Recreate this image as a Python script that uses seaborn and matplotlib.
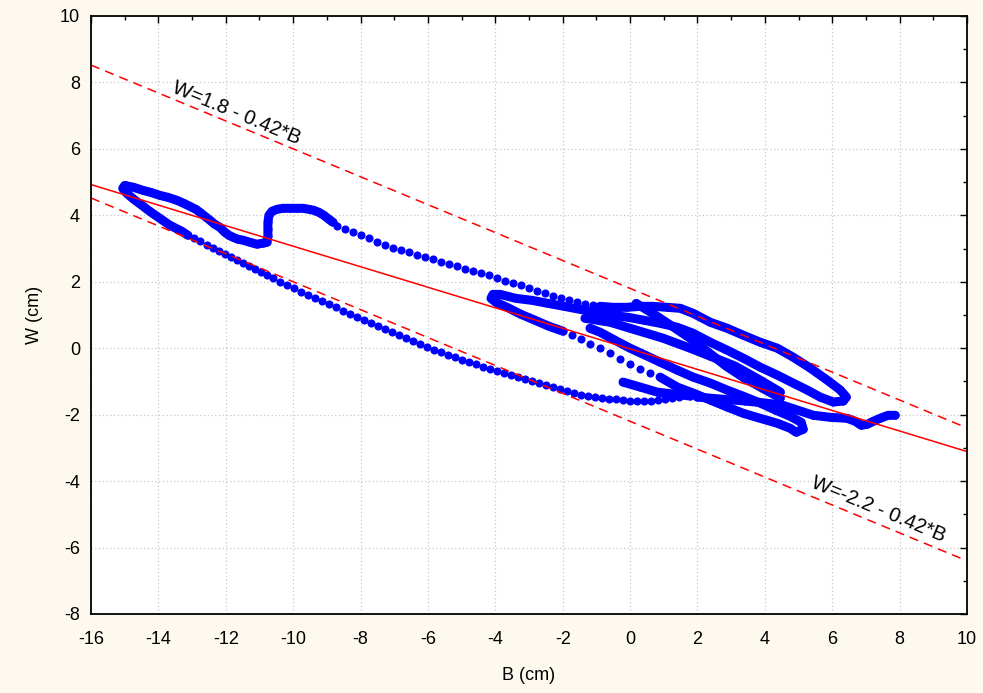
import matplotlib
matplotlib.use("Agg")
import numpy as np
import pandas as pd
import matplotlib.pyplot as plt
import seaborn as sns
from matplotlib.ticker import MultipleLocator

# fitted line and the two limit lines
fit_intercept = -0.02
fit_slope = -0.309
upper_intercept = 1.8
lower_intercept = -2.2
limit_slope = -0.42

# sparse dotted stretches of the trajectory (B, W in cm)
upper_diag_b = [-8.70, -8.46, -8.23, -7.99, -7.75, -7.51, -7.28, -7.04, -6.80, -6.56,
                -6.33, -6.09, -5.85, -5.61, -5.38, -5.14, -4.90, -4.66, -4.43, -4.19,
                -3.95, -3.71, -3.47, -3.24, -3.00, -2.76, -2.52, -2.29, -2.05, -1.81,
                -1.57, -1.34, -1.10]
upper_diag_w = [3.67, 3.58, 3.49, 3.40, 3.31, 3.19, 3.10, 3.01, 2.95, 2.89,
                2.80, 2.74, 2.68, 2.59, 2.53, 2.47, 2.38, 2.32, 2.26, 2.20,
                2.11, 2.02, 1.96, 1.90, 1.80, 1.71, 1.65, 1.56, 1.50, 1.44,
                1.38, 1.32, 1.29]

lower_diag_b = [-12.95, -12.77, -12.56, -12.38, -12.21, -12.03, -11.85, -11.67, -11.49, -11.32,
                -11.14, -10.96, -10.78, -10.60, -10.40, -10.19, -9.98, -9.77, -9.56, -9.36,
                -9.15, -8.94, -8.73, -8.52, -8.32, -8.11, -7.90, -7.69, -7.48, -7.28,
                -7.07, -6.86, -6.65, -6.44, -6.24, -6.03, -5.82, -5.61, -5.41, -5.20,
                -4.99, -4.78, -4.57, -4.37, -4.16, -3.95, -3.74, -3.53, -3.33, -3.12,
                -2.91, -2.70, -2.49, -2.29, -2.08, -1.87, -1.66, -1.46, -1.25, -1.04,
                -0.83, -0.62, -0.42, -0.21, 0.00, 0.21, 0.42, 0.62, 0.83, 1.04,
                1.25, 1.46]
lower_diag_w = [3.31, 3.22, 3.10, 3.01, 2.92, 2.83, 2.74, 2.65, 2.56, 2.47,
                2.38, 2.29, 2.20, 2.11, 1.99, 1.90, 1.80, 1.68, 1.59, 1.50,
                1.41, 1.32, 1.23, 1.11, 1.02, 0.93, 0.84, 0.75, 0.66, 0.57,
                0.48, 0.39, 0.30, 0.21, 0.12, 0.03, -0.06, -0.12, -0.21, -0.27,
                -0.36, -0.42, -0.48, -0.57, -0.63, -0.69, -0.75, -0.81, -0.87, -0.93,
                -0.99, -1.05, -1.11, -1.17, -1.23, -1.29, -1.35, -1.41, -1.44, -1.47,
                -1.50, -1.53, -1.53, -1.56, -1.59, -1.59, -1.59, -1.59, -1.56, -1.53,
                -1.50, -1.47]

hook_dots_b = [-1.72, -1.46, -1.19, -0.89, -0.59, -0.30, 0.00, 0.30, 0.59]
hook_dots_w = [0.39, 0.27, 0.12, 0.00, -0.15, -0.33, -0.48, -0.63, -0.75]

# dense stretches (points so close they merge into a band)
left_loop_b = [-8.82, -8.94, -9.09, -9.24, -9.39, -9.53, -9.71, -9.89, -10.10, -10.31,
               -10.48, -10.63, -10.72, -10.75, -10.75, -10.75, -10.78, -10.90, -11.08, -11.29,
               -11.49, -11.64, -11.79, -11.91, -12.03, -12.18, -12.33, -12.47, -12.62, -12.77,
               -12.89, -13.07, -13.25, -13.45, -13.72, -13.96, -14.23, -14.46, -14.73, -15.00,
               -15.06, -14.94, -14.73, -14.49, -14.26, -13.96, -13.66, -13.31, -13.13]
left_loop_w = [3.79, 3.88, 4.00, 4.09, 4.15, 4.18, 4.21, 4.21, 4.21, 4.21,
               4.18, 4.12, 4.00, 3.79, 3.58, 3.37, 3.19, 3.16, 3.13, 3.19,
               3.25, 3.28, 3.34, 3.40, 3.49, 3.64, 3.73, 3.85, 3.97, 4.09,
               4.18, 4.27, 4.36, 4.45, 4.54, 4.60, 4.69, 4.75, 4.84, 4.90,
               4.81, 4.66, 4.48, 4.30, 4.12, 3.91, 3.70, 3.52, 3.40]

big_loop_b = [-0.89, -0.50, -0.09, 0.30, 0.68, 1.10, 1.49, 1.87, 2.38, 2.88,
              3.36, 3.86, 4.37, 4.84, 5.35, 5.85, 6.24, 6.42, 6.33, 6.03,
              5.64, 5.26, 4.84, 4.37, 3.86, 3.36, 2.88, 2.38, 1.87, 1.40,
              0.89, 0.42, -0.06, -0.53, -1.01, -1.49, -1.96, -2.44, -2.91, -3.39,
              -3.86, -4.07, -4.13, -3.98, -3.65, -3.24, -2.82, -2.41, -1.99]
big_loop_w = [1.26, 1.23, 1.23, 1.26, 1.26, 1.23, 1.20, 1.05, 0.78, 0.60,
              0.39, 0.18, 0.00, -0.27, -0.60, -0.96, -1.26, -1.47, -1.59, -1.62,
              -1.47, -1.26, -1.05, -0.81, -0.57, -0.30, -0.06, 0.18, 0.45, 0.63,
              0.75, 0.84, 0.93, 0.99, 1.08, 1.17, 1.26, 1.35, 1.44, 1.50,
              1.62, 1.62, 1.50, 1.38, 1.23, 1.02, 0.84, 0.66, 0.51]

lower_lobe_b = [0.89, 1.40, 1.87, 2.38, 2.88, 3.36, 3.86, 4.37, 4.75, 4.93,
                5.14, 5.08, 4.75, 4.31, 3.86, 3.42, 2.88, 2.38, 1.87, 1.40,
                0.89, 0.45, 0.00, -0.45, -0.89, -1.19]
lower_lobe_w = [-0.87, -1.17, -1.35, -1.56, -1.77, -1.96, -2.11, -2.26, -2.41, -2.53,
                -2.44, -2.23, -2.05, -1.86, -1.65, -1.47, -1.26, -1.05, -0.87, -0.66,
                -0.42, -0.21, 0.00, 0.24, 0.48, 0.60]

tail_b = [1.99, 2.67, 3.42, 4.01, 4.51, 4.96, 5.44, 5.94, 6.44, 6.68,
          6.86, 7.04, 7.22, 7.42, 7.66, 7.87]
tail_w = [-1.47, -1.53, -1.59, -1.65, -1.71, -1.86, -2.02, -2.08, -2.11, -2.20,
          -2.32, -2.29, -2.20, -2.11, -2.02, -2.02]

start_b = [-0.21, 0.30, 0.80, 1.28, 1.78]
start_w = [-1.02, -1.17, -1.32, -1.38, -1.44]

steep_b = [0.18, 0.71, 1.25, 1.78, 2.32, 2.85, 3.39, 3.92, 4.46]
steep_w = [1.35, 1.02, 0.66, 0.30, -0.12, -0.54, -0.90, -1.20, -1.50]

inner_b = [-1.34, -0.59, 0.00, 0.98, 1.78, 2.38, 3.12, 3.86, 4.46]
inner_w = [0.90, 0.78, 0.60, 0.30, 0.00, -0.24, -0.54, -0.96, -1.32]

dense_segments = [(left_loop_b, left_loop_w), (big_loop_b, big_loop_w),
                  (lower_lobe_b, lower_lobe_w), (tail_b, tail_w),
                  (start_b, start_w), (steep_b, steep_w), (inner_b, inner_w)]

dots = pd.DataFrame({
    "B": upper_diag_b + lower_diag_b + hook_dots_b,
    "W": upper_diag_w + lower_diag_w + hook_dots_w,
})

sns.set_style("white")
plt.rcParams["font.family"] = ["Liberation Sans", "DejaVu Sans"]
plt.rcParams["axes.unicode_minus"] = False
plt.rcParams["text.color"] = "black"
plt.rcParams["axes.labelcolor"] = "black"
plt.rcParams["xtick.color"] = "black"
plt.rcParams["ytick.color"] = "black"

fig = plt.figure(figsize=(9.83, 6.93), dpi=100, facecolor="#FDF9EE")
ax = fig.add_axes([0.0926, 0.114, 0.8911, 0.863])
ax.set_facecolor("white")

blue = "#0000FF"
for seg_b, seg_w in dense_segments:
    sns.lineplot(x=seg_b, y=seg_w, sort=False, estimator=None, color=blue,
                 lw=6.5, solid_capstyle="round", solid_joinstyle="round", ax=ax)
    sns.scatterplot(x=seg_b, y=seg_w, color=blue, s=34, linewidth=0, ax=ax)

sns.scatterplot(data=dots, x="B", y="W", color=blue, s=34, linewidth=0, ax=ax)

xs = np.array([-16.0, 10.0])
sns.lineplot(x=xs, y=fit_intercept + fit_slope * xs, color="red", lw=1.1, ax=ax)
sns.lineplot(x=xs, y=upper_intercept + limit_slope * xs, color="red", lw=1.1,
             linestyle=(0, (6, 4)), ax=ax)
sns.lineplot(x=xs, y=lower_intercept + limit_slope * xs, color="red", lw=1.1,
             linestyle=(0, (6, 4)), ax=ax)

ax.text(-11.7, 7.07, "W=1.8 - 0.42*B", rotation=-22.5, rotation_mode="anchor",
        ha="center", va="center", fontsize=14.5)
ax.text(7.37, -4.84, "W=-2.2 - 0.42*B", rotation=-22.5, rotation_mode="anchor",
        ha="center", va="center", fontsize=14.5)

ax.set_xlim(-16, 10)
ax.set_ylim(-8, 10)
ax.xaxis.set_major_locator(MultipleLocator(2))
ax.xaxis.set_minor_locator(MultipleLocator(1))
ax.yaxis.set_major_locator(MultipleLocator(2))
ax.yaxis.set_minor_locator(MultipleLocator(1))
ax.tick_params(which="both", direction="in", top=True, right=True, labelsize=13,
               color="black")
ax.tick_params(which="major", length=5, width=1)
ax.tick_params(which="minor", length=3, width=1)
ax.tick_params(axis="x", pad=12)
ax.tick_params(axis="y", pad=8)
ax.grid(True, which="major", color="#C8C8C8", linestyle=(0, (1, 2)), lw=0.9)
for sp in ax.spines.values():
    sp.set_color("black")
    sp.set_linewidth(1.3)

ax.set_xlabel("B (cm)", fontsize=13, labelpad=14)
ax.set_ylabel("W (cm)", fontsize=13, labelpad=12)

fig.savefig("out.png", dpi=100, facecolor=fig.get_facecolor())
